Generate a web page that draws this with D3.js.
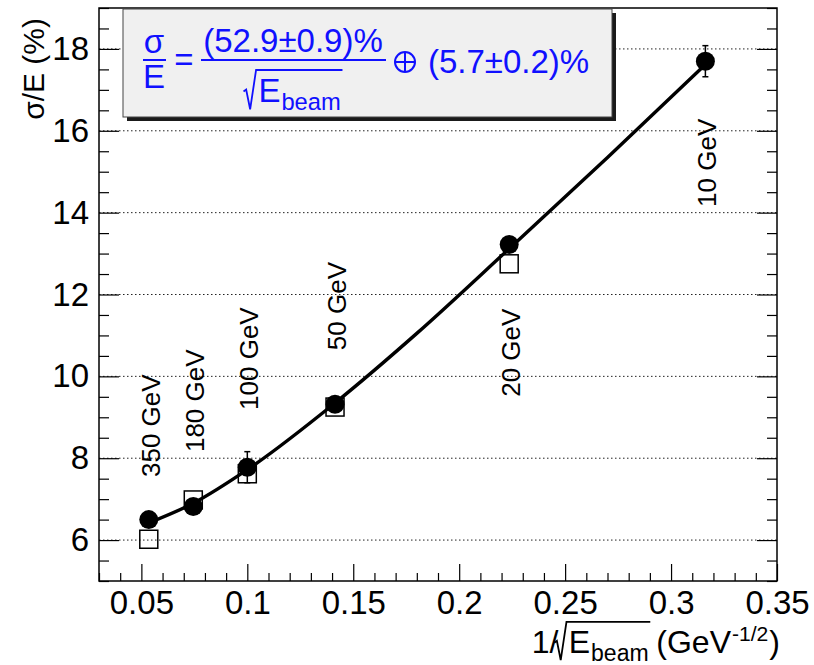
<!DOCTYPE html>
<html>
<head>
<meta charset="utf-8">
<script src="https://cdn.jsdelivr.net/npm/d3@7"></script>
<style>
  body { margin: 0; background: #fff; }
  text { font-family: "Liberation Sans", Arial, Helvetica, sans-serif; }
</style>
</head>
<body>
<svg id="chart" width="814" height="665"></svg>
<script>
// ---------------- data ----------------
var energyLabels = ["350 GeV", "180 GeV", "100 GeV", "50 GeV", "20 GeV", "10 GeV"];
var invSqrtE = [0.0535, 0.0745, 0.1, 0.1414, 0.2236, 0.3162];
var dataRes = [6.5, 6.82, 7.78, 9.32, 13.22, 17.7];     // filled circles
var dataErr = [0.12, 0.15, 0.38, 0.12, 0.15, 0.38];
var simRes = [6.02, 6.98, 7.62, 9.25, 12.75, null];     // open squares
var fitX = [0.0535, 0.0745, 0.1, 0.1414, 0.18, 0.2236, 0.27, 0.3162];
var fitY = [6.42, 6.9, 7.72, 9.35, 11.05, 13.12, 15.35, 17.62];
var labelY = [7.54, 8.15, 9.18, 10.64, 9.5, 14.14];     // bottom end of the rotated labels
var xTicks = [0.05, 0.1, 0.15, 0.2, 0.25, 0.3, 0.35];
var yTicks = [6, 8, 10, 12, 14, 16, 18];

// ---------------- layout ----------------
var margin = {top: 8, right: 37, bottom: 84, left: 99},
    width = 814 - margin.left - margin.right,
    height = 665 - margin.top - margin.bottom;
var blue = "#1010ff";

var x = d3.scaleLinear().domain([0.03, 0.35]).range([0, width]);
var y = d3.scaleLinear().domain([5, 19]).range([height, 0]);

var svg = d3.select("#chart");
var g = svg.append("g").attr("transform", "translate(" + margin.left + "," + margin.top + ")");

// dotted horizontal grid
g.append("g").selectAll("line").data(yTicks).enter().append("line")
  .attr("x1", 0).attr("x2", width)
  .attr("y1", function(d){ return y(d); }).attr("y2", function(d){ return y(d); })
  .attr("stroke", "#222").attr("stroke-width", 1).attr("stroke-dasharray", "1.5,2.5");

// axes, ROOT style (ticks inside)
var xMinor = d3.range(0.03, 0.3501, 0.01).filter(function(v){ return xTicks.every(function(t){ return Math.abs(t - v) > 1e-6; }); });
var yMinor = d3.range(5, 19.01, 0.5).filter(function(v){ return yTicks.indexOf(v) < 0; });

g.append("g").attr("transform", "translate(0," + height + ")")
  .call(d3.axisBottom(x).tickValues(xTicks).tickSize(-17).tickPadding(10)
        .tickFormat(function(d){ return String(+d.toFixed(2)); }));
g.append("g").attr("transform", "translate(0," + height + ")")
  .call(d3.axisBottom(x).tickValues(xMinor).tickSize(-8).tickFormat(""));

g.append("g")
  .call(d3.axisLeft(y).tickValues(yTicks).tickSize(-20).tickPadding(10));
g.append("g").call(d3.axisLeft(y).tickValues(yMinor).tickSize(-10).tickFormat(""));
g.append("g").attr("transform", "translate(" + width + ",0)")
  .call(d3.axisRight(y).tickValues(yTicks).tickSize(-20).tickFormat(""));
g.append("g").attr("transform", "translate(" + width + ",0)")
  .call(d3.axisRight(y).tickValues(yMinor).tickSize(-10).tickFormat(""));

g.selectAll(".domain").remove();
g.selectAll(".tick line").attr("stroke", "#000").attr("stroke-width", 1.2);
g.selectAll(".tick text").attr("font-size", 33).attr("fill", "#000")
  .attr("font-family", "Liberation Sans, Arial, sans-serif");

g.append("rect").attr("width", width).attr("height", height)
  .attr("fill", "none").attr("stroke", "#000").attr("stroke-width", 1.5);

// open squares
var sq = 18;
g.append("g").selectAll("rect").data(simRes.map(function(v, i){ return {x: invSqrtE[i], v: v}; })
    .filter(function(d){ return d.v !== null; }))
  .enter().append("rect")
  .attr("x", function(d){ return x(d.x) - sq / 2; })
  .attr("y", function(d){ return y(d.v) - sq / 2; })
  .attr("width", sq).attr("height", sq)
  .attr("fill", "none").attr("stroke", "#000").attr("stroke-width", 1.5);

// fit curve
var fitLine = d3.line()
  .x(function(d){ return x(d[0]); })
  .y(function(d){ return y(d[1]); })
  .curve(d3.curveMonotoneX);
g.append("path").datum(d3.zip(fitX, fitY))
  .attr("d", fitLine)
  .attr("fill", "none").attr("stroke", "#000").attr("stroke-width", 3.4);

// filled circles with error bars
var pts = dataRes.map(function(v, i){ return {x: invSqrtE[i], v: v, e: dataErr[i]}; });
var pg = g.append("g").selectAll("g").data(pts).enter().append("g");
pg.append("line")
  .attr("x1", function(d){ return x(d.x); }).attr("x2", function(d){ return x(d.x); })
  .attr("y1", function(d){ return y(d.v - d.e); }).attr("y2", function(d){ return y(d.v + d.e); })
  .attr("stroke", "#000").attr("stroke-width", 1.5);
[-1, 1].forEach(function(s){
  pg.append("line")
    .attr("x1", function(d){ return x(d.x) - 3; }).attr("x2", function(d){ return x(d.x) + 3; })
    .attr("y1", function(d){ return y(d.v + s * d.e); }).attr("y2", function(d){ return y(d.v + s * d.e); })
    .attr("stroke", "#000").attr("stroke-width", 1.5);
});
pg.append("circle")
  .attr("cx", function(d){ return x(d.x); }).attr("cy", function(d){ return y(d.v); })
  .attr("r", 9.5).attr("fill", "#000");

// energy labels
g.append("g").selectAll("text").data(energyLabels).enter().append("text")
  .attr("transform", function(d, i){ return "translate(" + (x(invSqrtE[i]) + 11) + "," + y(labelY[i]) + ") rotate(-90)"; })
  .attr("font-size", 26).attr("fill", "#000")
  .text(function(d){ return d; });

// helper: radical + E_beam, returns its right end
function sqrtEbeam(parent, x0, base, fs, color) {
  var e = parent.append("text").attr("x", x0 + 0.45 * fs).attr("y", base)
    .attr("font-size", fs).attr("fill", color).text("E");
  var ex = x0 + 0.45 * fs + e.node().getComputedTextLength();
  var b = parent.append("text").attr("x", ex + 1).attr("y", base + 0.25 * fs)
    .attr("font-size", 0.72 * fs).attr("fill", color).text("beam");
  var end = ex + 1 + b.node().getComputedTextLength() + 0.05 * fs;
  parent.append("path")
    .attr("d", "M" + x0 + "," + (base - 0.32 * fs) +
               "L" + (x0 + 0.08 * fs) + "," + (base - 0.38 * fs) +
               "L" + (x0 + 0.2 * fs) + "," + (base + 0.22 * fs) +
               "L" + (x0 + 0.38 * fs) + "," + (base - 0.97 * fs) +
               "L" + end + "," + (base - 0.97 * fs))
    .attr("fill", "none").attr("stroke", color).attr("stroke-width", 1.8);
  return end;
}

// axis titles
svg.append("text")
  .attr("transform", "translate(44,18) rotate(-90)")
  .attr("text-anchor", "end").attr("font-size", 30).attr("fill", "#000")
  .text("\u03c3/E (%)");

var xt = svg.append("g");
var fs = 32, base = 653;
var t1 = xt.append("text").attr("x", 0).attr("y", base).attr("font-size", fs).text("1/");
var cx = t1.node().getComputedTextLength() - 4;
cx = sqrtEbeam(xt, cx, base, fs, "#000") + 6;
var t2 = xt.append("text").attr("x", cx).attr("y", base).attr("font-size", fs).text("(GeV");
cx += t2.node().getComputedTextLength() + 1;
var t3 = xt.append("text").attr("x", cx).attr("y", base - 0.36 * fs).attr("font-size", 0.66 * fs).text("-1/2");
cx += t3.node().getComputedTextLength() + 1;
xt.append("text").attr("x", cx).attr("y", base).attr("font-size", fs).text(")");
var xtw = xt.node().getBBox().width;
xt.attr("transform", "translate(" + (780 - xtw) + ",0)");

// formula box
var box = svg.append("g");
box.append("rect").attr("x", 127).attr("y", 13).attr("width", 489).attr("height", 108).attr("fill", "#1a1a1a");
box.append("rect").attr("x", 123).attr("y", 9).attr("width", 489).attr("height", 108)
  .attr("fill", "#f0f0f0").attr("stroke", "#444").attr("stroke-width", 1);

box.append("text").attr("x", 154).attr("y", 53).attr("text-anchor", "middle")
  .attr("font-size", 33).attr("fill", blue).text("\u03c3");
box.append("line").attr("x1", 143).attr("x2", 166).attr("y1", 60).attr("y2", 60)
  .attr("stroke", blue).attr("stroke-width", 2);
box.append("text").attr("x", 154).attr("y", 88).attr("text-anchor", "middle")
  .attr("font-size", 33).attr("fill", blue).text("E");
box.append("text").attr("x", 184).attr("y", 71).attr("text-anchor", "middle")
  .attr("font-size", 33).attr("fill", blue).text("=");
box.append("text").attr("x", 293).attr("y", 52).attr("text-anchor", "middle")
  .attr("font-size", 33).attr("fill", blue).text("(52.9\u00b10.9)%");
box.append("line").attr("x1", 201).attr("x2", 386).attr("y1", 60).attr("y2", 60)
  .attr("stroke", blue).attr("stroke-width", 2);
var den = box.append("g");
sqrtEbeam(den, 0, 102, 33, blue);
var dw = den.node().getBBox().width;
den.attr("transform", "translate(" + (293 - dw / 2) + ",0)");
// circled plus
box.append("circle").attr("cx", 405).attr("cy", 62).attr("r", 10)
  .attr("fill", "none").attr("stroke", blue).attr("stroke-width", 2);
box.append("path").attr("d", "M395,62H415M405,52V72")
  .attr("stroke", blue).attr("stroke-width", 2);
box.append("text").attr("x", 428).attr("y", 73)
  .attr("font-size", 33).attr("fill", blue).text("(5.7\u00b10.2)%");
</script>
</body>
</html>
